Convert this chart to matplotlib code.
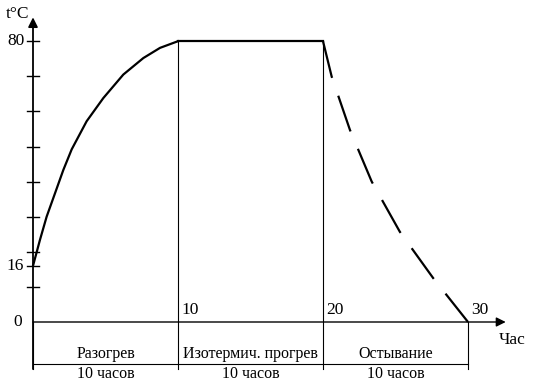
import numpy as np
import matplotlib
matplotlib.use("Agg")
from matplotlib import pyplot as plt

plt.rcParams['font.family'] = ['Liberation Serif', 'DejaVu Serif']

# heating curve (hours, deg C)
heat_t = [0, 0.48, 0.94, 1.52, 2.09, 2.67, 3.70, 4.85, 6.23, 7.61, 8.76, 10]
heat_T = [16, 23.4, 30.0, 36.7, 43.3, 49.2, 57.2, 63.8, 70.5, 75.2, 78.1, 80]

# isothermal hold
hold_t = [10, 20]
hold_T = [80, 80]

# cooling (dashed)
cool_t = [20, 20.6, 21.86, 23.36, 25.3, 27.6, 30]
cool_T = [80, 69.9, 54.7, 40.0, 25.7, 12.5, 0]

phase_bounds = [0, 10, 20, 30]
phase_names = ["Разогрев", "Изотермич. прогрев", "Остывание"]
phase_dur = ["10 часов", "10 часов", "10 часов"]

ytick_vals = [10, 16, 20, 30, 40, 50, 60, 70, 80]
ytick_labels = ["16", "80"]
xtick_labels = ["10", "20", "30"]

fs = 12.5
fs_lab = 11.5
lw_thin = 0.8
lw_thick = 1.6

fig = plt.figure(figsize=(5.35, 3.86), dpi=100)
ax = fig.add_axes([0, 0, 1, 1])
# 14.5 px per hour, 3.51 px per degree, origin at pixel (33, 322)
ax.set_xlim(-33 / 14.5, (535 - 33) / 14.5)
ax.set_ylim(-(386 - 322) / 3.51, 322 / 3.51)
ax.axis('off')

# axes with arrows
ax.annotate("", xy=(32.6, 0), xytext=(0, 0),
            arrowprops=dict(arrowstyle='-|>', color='black', lw=1.0,
                            mutation_scale=14, shrinkA=0, shrinkB=0))
ax.annotate("", xy=(0, 86.8), xytext=(0, -13.4),
            arrowprops=dict(arrowstyle='-|>', color='black', lw=1.3,
                            mutation_scale=14, shrinkA=0, shrinkB=0))

# y ticks crossing the axis
for v in ytick_vals:
    ax.plot([-0.42, 0.42], [v, v], color='black', lw=1.0)

ax.text(-0.6, 80, ytick_labels[1], ha='right', va='center', fontsize=fs)
ax.text(-0.6, 16, ytick_labels[0], ha='right', va='center', fontsize=fs)
ax.text(-0.75, 0, "0", ha='right', va='center', fontsize=fs)
ax.text(-1.85, 87.8, "t°C", ha='left', va='center', fontsize=fs)
ax.text(32.1, -5.1, "Час", ha='left', va='center', fontsize=fs)

# phase boundaries
for b in phase_bounds[1:3]:
    ax.plot([b, b], [80, -13.4], color='black', lw=lw_thin)
for b in [phase_bounds[0], phase_bounds[3]]:
    ax.plot([b, b], [0, -13.4], color='black', lw=lw_thin)
for b, lab in zip(phase_bounds[1:], xtick_labels):
    ax.text(b + 0.25, 3.4, lab, ha='left', va='center', fontsize=fs)

ax.plot([phase_bounds[0], phase_bounds[-1]], [-12, -12], color='black', lw=lw_thin)
for i in range(3):
    mid = (phase_bounds[i] + phase_bounds[i + 1]) / 2
    ax.text(mid, -9.2, phase_names[i], ha='center', va='center', fontsize=fs_lab)
    ax.text(mid, -14.9, phase_dur[i], ha='center', va='center', fontsize=fs_lab)

# temperature curve
ax.plot(heat_t, heat_T, color='black', lw=lw_thick, solid_joinstyle='round')
ax.plot(hold_t, hold_T, color='black', lw=lw_thick)
ax.plot(cool_t, cool_T, color='black', lw=lw_thick, linestyle=(0, (17, 8.5)))

plt.savefig("out.png", dpi=100)
